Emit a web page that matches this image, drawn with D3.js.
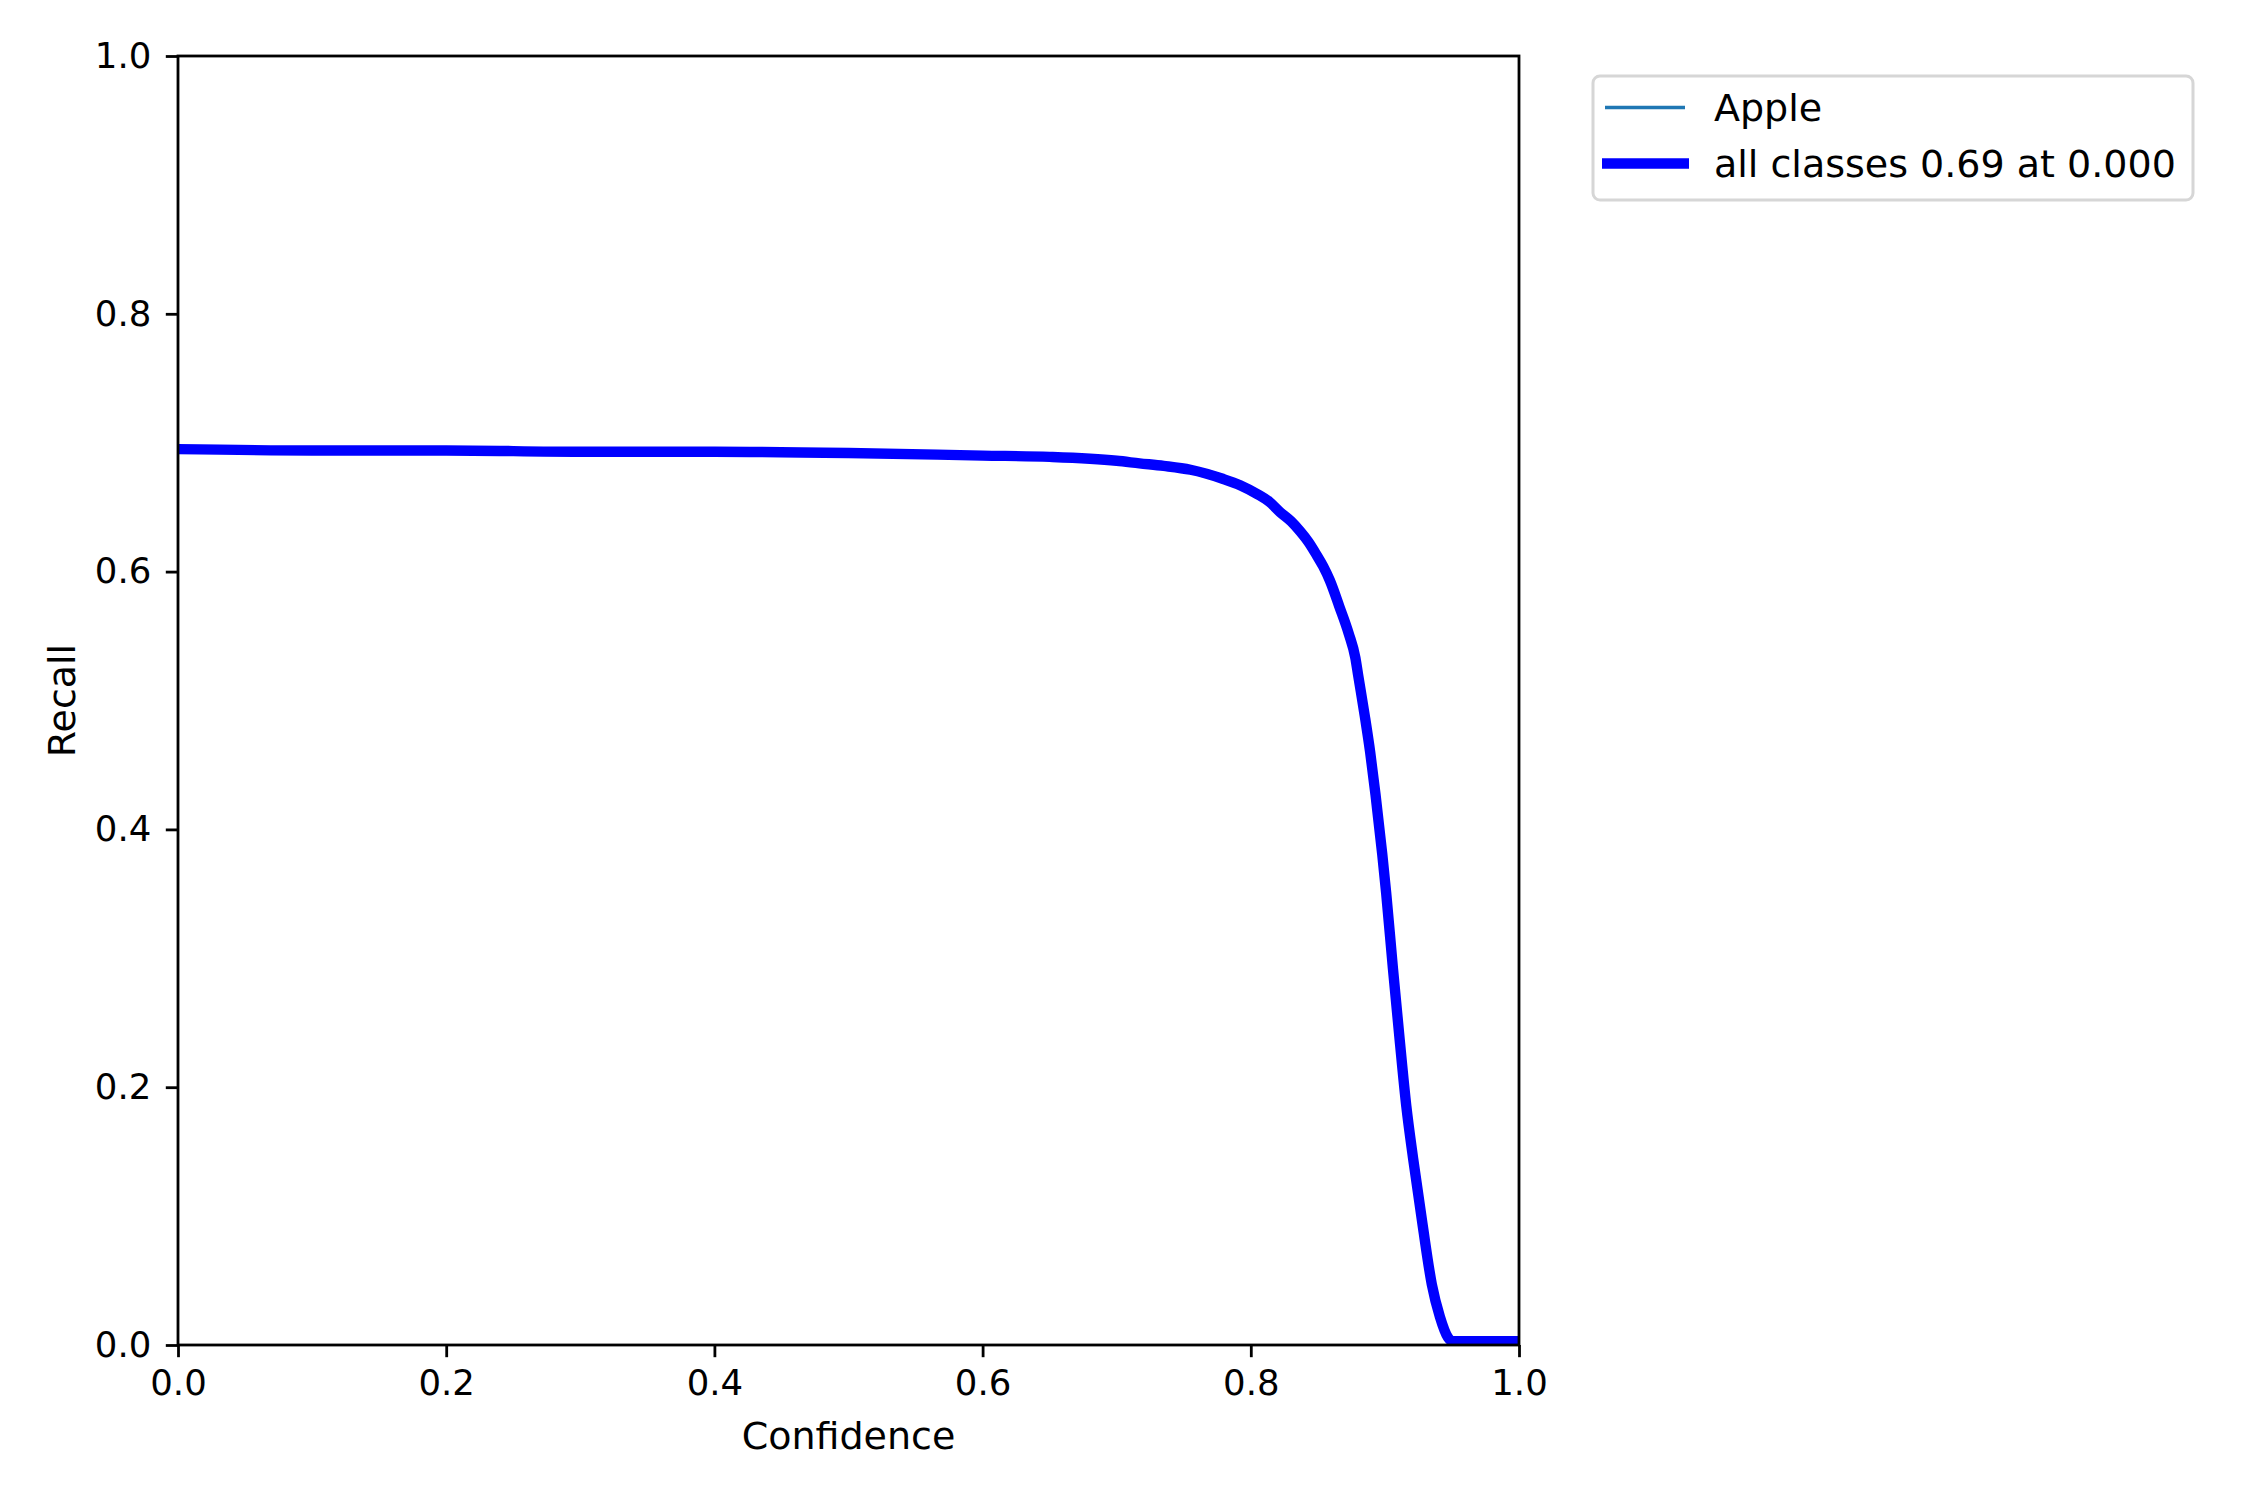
<!DOCTYPE html>
<html>
<head>
<meta charset="utf-8">
<script src="https://cdn.jsdelivr.net/npm/d3@7"></script>
<style>
  html, body { margin: 0; padding: 0; background: #fff; }
  svg { display: block; }
  text { font-family: "DejaVu Sans", sans-serif; }
</style>
</head>
<body>
<svg id="chart" width="2250" height="1500"></svg>
<script>
// ---- data ----
const confidence = [0.000, 0.100, 0.200, 0.300, 0.400, 0.500, 0.600, 0.650, 0.700, 0.717, 0.735, 0.755,
  0.779, 0.792, 0.805, 0.814, 0.822, 0.830, 0.837, 0.843, 0.849, 0.854, 0.859, 0.866, 0.873, 0.878,
  0.880, 0.885, 0.889, 0.893, 0.898, 0.901, 0.906, 0.911, 0.916, 0.921, 0.928, 0.935, 0.941, 0.947,
  0.950, 0.975, 1.000];
const recallAll = [0.695, 0.694, 0.694, 0.693, 0.693, 0.692, 0.690, 0.689, 0.686, 0.684, 0.682, 0.679,
  0.672, 0.667, 0.660, 0.654, 0.646, 0.639, 0.631, 0.623, 0.613, 0.604, 0.593, 0.573, 0.552, 0.533,
  0.520, 0.488, 0.460, 0.427, 0.381, 0.350, 0.292, 0.237, 0.185, 0.145, 0.094, 0.047, 0.022, 0.006,
  0.003, 0.003, 0.003];
const recallApple = recallAll.slice();
const seriesNames = ["Apple", "all classes 0.69 at 0.000"];
const tickValues = [0.0, 0.2, 0.4, 0.6, 0.8, 1.0];
const xLabel = "Confidence";
const yLabel = "Recall";

// ---- layout ----
const FS = 38;      // labels / legend
const TFS = 35.5;   // tick labels
const plot = { left: 178, right: 1519, top: 56, bottom: 1345 };
const svg = d3.select("#chart");

const x = d3.scaleLinear().domain([0, 1]).range([plot.left, plot.right]);
const y = d3.scaleLinear().domain([0, 1]).range([plot.bottom, plot.top]);

const line = d3.line().x(d => x(d[0])).y(d => y(d[1])).curve(d3.curveMonotoneX);

const dataApple = confidence.map((c, i) => [c, recallApple[i]]);
const dataAll = confidence.map((c, i) => [c, recallAll[i]]);

svg.append("clipPath").attr("id", "clip").append("rect")
  .attr("x", plot.left).attr("y", plot.top - 6)
  .attr("width", plot.right - plot.left).attr("height", plot.bottom - plot.top + 6);

svg.append("path").datum(dataApple)
  .attr("d", line).attr("fill", "none")
  .attr("stroke", "#1f77b4").attr("stroke-width", 3.47)
  .attr("stroke-linejoin", "round")
  .attr("clip-path", "url(#clip)");

svg.append("path").datum(dataAll)
  .attr("d", line).attr("fill", "none")
  .attr("stroke", "#0000ff").attr("stroke-width", 10.4)
  .attr("stroke-linejoin", "round")
  .attr("clip-path", "url(#clip)");

// ---- axes ----
const xAxis = d3.axisBottom(x).tickValues(tickValues).tickFormat(d3.format(".1f"))
  .tickSizeInner(12.2).tickSizeOuter(0).tickPadding(12.2);
const yAxis = d3.axisLeft(y).tickValues(tickValues).tickFormat(d3.format(".1f"))
  .tickSizeInner(12.2).tickSizeOuter(0).tickPadding(14.5);

const gx = svg.append("g").attr("transform", `translate(0,${plot.bottom})`).call(xAxis);
const gy = svg.append("g").attr("transform", `translate(${plot.left},0)`).call(yAxis);
[gx, gy].forEach(g => {
  g.select(".domain").remove();
  g.selectAll(".tick line").attr("stroke", "#000").attr("stroke-width", 2.8);
  g.selectAll(".tick text").attr("fill", "#000").style("font-size", TFS + "px")
    .style("font-family", "'DejaVu Sans', sans-serif");
});

// spines
svg.append("rect")
  .attr("x", plot.left).attr("y", plot.top)
  .attr("width", plot.right - plot.left).attr("height", plot.bottom - plot.top)
  .attr("fill", "none").attr("stroke", "#000").attr("stroke-width", 2.8);

// axis labels
svg.append("text")
  .attr("x", (plot.left + plot.right) / 2).attr("y", 1436)
  .attr("text-anchor", "middle").attr("dominant-baseline", "central")
  .style("font-size", FS + "px").text(xLabel);
svg.append("text")
  .attr("transform", `translate(62,${(plot.top + plot.bottom) / 2}) rotate(-90)`)
  .attr("text-anchor", "middle").attr("dominant-baseline", "central")
  .style("font-size", FS + "px").text(yLabel);

// ---- legend ----
const lg = svg.append("g");
lg.append("rect")
  .attr("x", 1593).attr("y", 76).attr("width", 600).attr("height", 124)
  .attr("rx", 7).attr("ry", 7)
  .attr("fill", "#fff").attr("fill-opacity", 0.8)
  .attr("stroke", "#d6d6d6").attr("stroke-width", 3);

const legendItems = [
  { name: seriesNames[0], color: "#1f77b4", width: 3.47, y: 107.5, x1: 1605, x2: 1685 },
  { name: seriesNames[1], color: "#0000ff", width: 10.4, y: 163.5, x1: 1602, x2: 1689 }
];
legendItems.forEach(it => {
  lg.append("line")
    .attr("x1", it.x1).attr("x2", it.x2).attr("y1", it.y).attr("y2", it.y)
    .attr("stroke", it.color).attr("stroke-width", it.width);
  lg.append("text")
    .attr("x", 1714).attr("y", it.y)
    .attr("dominant-baseline", "central")
    .style("font-size", FS + "px").attr("fill", "#000")
    .text(it.name);
});
</script>
</body>
</html>
